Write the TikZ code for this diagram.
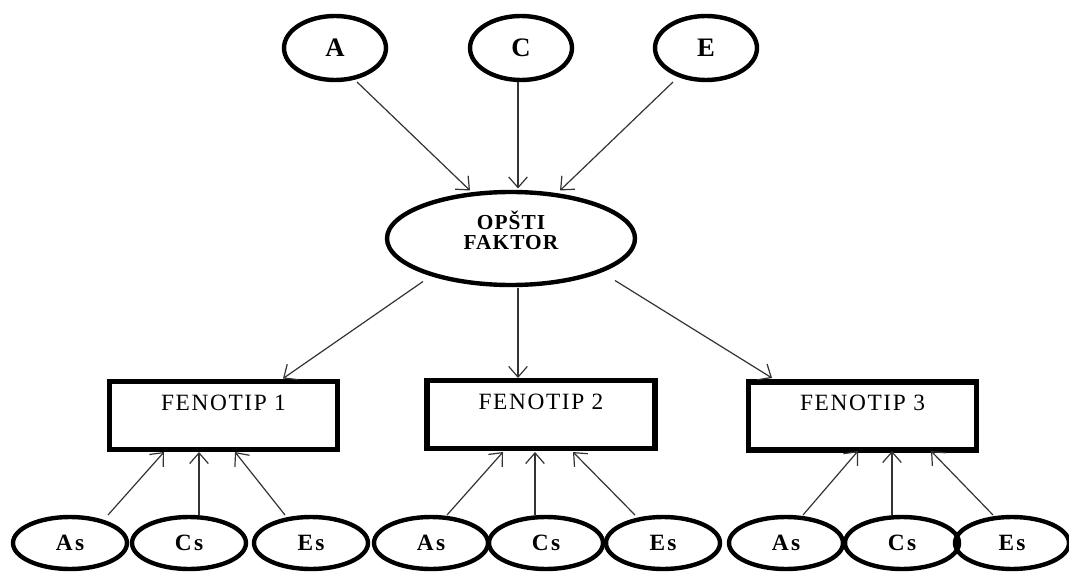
\documentclass[tikz,border=0pt]{standalone}
\usepackage{fontspec}
\setmainfont{Liberation Serif}
\usetikzlibrary{arrows.meta,calc,shapes.geometric}
\begin{document}
\begin{tikzpicture}[x=0.75pt,y=-0.75pt,
  topell/.style={draw,ellipse,line width=3.3pt,inner sep=0pt,minimum width=76.5pt,minimum height=48pt,font=\fontsize{20}{20}\selectfont\bfseries},
  factor/.style={draw,ellipse,line width=3.3pt,inner sep=0pt,minimum width=186pt,minimum height=69.75pt,align=center,text depth=12pt,font=\fontsize{16}{15}\selectfont\bfseries\addfontfeature{LetterSpace=5}},
  botell/.style={draw,ellipse,line width=3.3pt,inner sep=0pt,minimum width=85.5pt,minimum height=39pt,font=\fontsize{17.5}{17.5}\selectfont\bfseries\addfontfeature{LetterSpace=10}},
  fenbox/.style={draw,rectangle,line width=3.9pt,inner sep=0pt,minimum width=171pt,minimum height=51pt,text height=12pt,text depth=20pt,font=\fontsize{17.5}{17.5}\selectfont\addfontfeature{LetterSpace=7}},
  arr/.style={line width=0.9pt,draw=black!80,-{Straight Barb[length=8pt,width=14pt]}}
]
\useasboundingbox (0,0) rectangle (1069,573);
% top
\node[topell] (A) at (335,48) {A};
\node[topell] (C) at (521,48) {C};
\node[topell] (E) at (706,48) {E};
\node[factor] (F) at (511,238.5) {OPŠTI\\FAKTOR};
% boxes
\node[fenbox] (B1) at (223.5,415.5) {FENOTIP 1};
\node[fenbox] (B2) at (541,414.5) {FENOTIP 2};
\node[fenbox] (B3) at (862.5,416) {FENOTIP 3};
% bottom ellipses
\node[botell] (As1) at (70,543) {As};
\node[botell] (Cs1) at (189,543) {Cs};
\node[botell] (Es1) at (311,543) {Es};
\node[botell] (As2) at (431,543) {As};
\node[botell] (Cs2) at (546,543) {Cs};
\node[botell] (Es2) at (663,543) {Es};
\node[botell] (As3) at (786,543) {As};
\node[botell] (Cs3) at (902,543) {Cs};
\node[botell] (Es3) at (1012,543) {Es};
% top arrows
\draw[arr] ($(A)+(22,34)$) -- ($(F)+(-41,-48)$);
\draw[arr] ($(C)+(-3,34)$) -- ($(F)+(7,-50)$);
\draw[arr] ($(E)+(-33,34)$) -- ($(F)+(49,-48)$);
% factor to boxes
\draw[arr] ($(F)+(-88,43)$) -- ($(B1)+(59.5,-37)$);
\draw[arr] ($(F)+(7,49)$) -- ($(B2)+(-23,-36.5)$);
\draw[arr] ($(F)+(104,42)$) -- ($(B3)+(-90.5,-38)$);
% bottom arrows
\draw[arr] ($(As1)+(38,-28)$) -- ($(B1)+(-59.5,36.5)$);
\draw[arr] ($(Cs1)+(10,-28)$) -- ($(B1)+(-24.5,36.5)$);
\draw[arr] ($(Es1)+(-26,-28)$) -- ($(B1)+(11.5,36.5)$);
\draw[arr] ($(As2)+(16,-28)$) -- ($(B2)+(-38,37.5)$);
\draw[arr] ($(Cs2)+(-11,-28)$) -- ($(B2)+(-6,37.5)$);
\draw[arr] ($(Es2)+(-28,-28)$) -- ($(B2)+(32,37.5)$);
\draw[arr] ($(As3)+(17,-28)$) -- ($(B3)+(-4.5,35)$);
\draw[arr] ($(Cs3)+(-10,-28)$) -- ($(B3)+(29.5,35)$);
\draw[arr] ($(Es3)+(-19,-28)$) -- ($(B3)+(68.5,35)$);
\end{tikzpicture}
\end{document}
